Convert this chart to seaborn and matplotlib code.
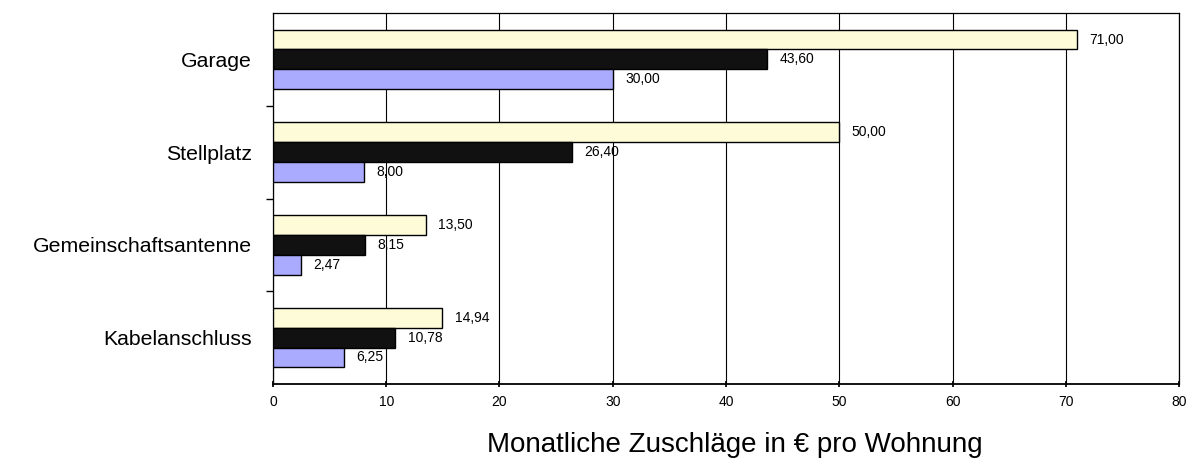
import matplotlib
matplotlib.use("Agg")
import matplotlib.pyplot as plt
import seaborn as sns
import pandas as pd

categories = ["Garage", "Stellplatz", "Gemeinschaftsantenne", "Kabelanschluss"]
series_names = ["Höchstwert", "Durchschnitt", "Tiefstwert"]
high_values = [71.00, 50.00, 13.50, 14.94]
mean_values = [43.60, 26.40, 8.15, 10.78]
low_values = [30.00, 8.00, 2.47, 6.25]
x_ticks = [0, 10, 20, 30, 40, 50, 60, 70, 80]
colors = ["#FEFCD8", "#111111", "#AAAAFF"]

rows = []
for name, vals in zip(series_names, [high_values, mean_values, low_values]):
    for cat, v in zip(categories, vals):
        rows.append({"Kategorie": cat, "Reihe": name, "Wert": v})
df = pd.DataFrame(rows)

sns.set_theme(style="white")
plt.rcParams["font.family"] = ["Liberation Sans", "DejaVu Sans"]
plt.rcParams["text.color"] = "black"
plt.rcParams["axes.labelcolor"] = "black"
plt.rcParams["xtick.color"] = "black"
plt.rcParams["ytick.color"] = "black"

fig = plt.figure(figsize=(11.93, 4.75), dpi=100)
ax = fig.add_axes([0.2288, 0.1916, 0.9883 - 0.2288, 0.9726 - 0.1916])

sns.barplot(data=df, y="Kategorie", x="Wert", hue="Reihe", order=categories,
            hue_order=series_names, palette=colors, saturation=1, orient="h",
            width=0.64, edgecolor="black", linewidth=1.0, legend=False, ax=ax, zorder=3)

for container in ax.containers:
    ax.bar_label(container, labels=[f"{v:.2f}".replace(".", ",") for v in container.datavalues],
                 padding=9, fontsize=10, color="black", zorder=4)

ax.set_xlim(0, 80)
ax.set_ylim(3.5, -0.5)
ax.set_xticks(x_ticks)
ax.set_xticklabels([str(t) for t in x_ticks], fontsize=10)
ax.xaxis.grid(True, color="black", linewidth=0.8)
ax.set_axisbelow(True)
for s in ax.spines.values():
    s.set_color("black")
    s.set_linewidth(0.9)
ax.spines["bottom"].set_linewidth(1.3)

ax.tick_params(axis="y", which="major", length=0, labelsize=15.3, pad=15)
ax.set_yticks([0.5, 1.5, 2.5], minor=True)
ax.tick_params(axis="y", which="minor", length=5, color="black", direction="out", left=True)
ax.tick_params(axis="x", which="major", length=4, color="black", direction="inout", bottom=True, pad=6)

ax.set_ylabel("")
ax.set_xlabel("Monatliche Zuschläge in € pro Wohnung", fontsize=20)
ax.xaxis.set_label_coords(0.51, -0.13)

fig.savefig("out.png", dpi=100)
